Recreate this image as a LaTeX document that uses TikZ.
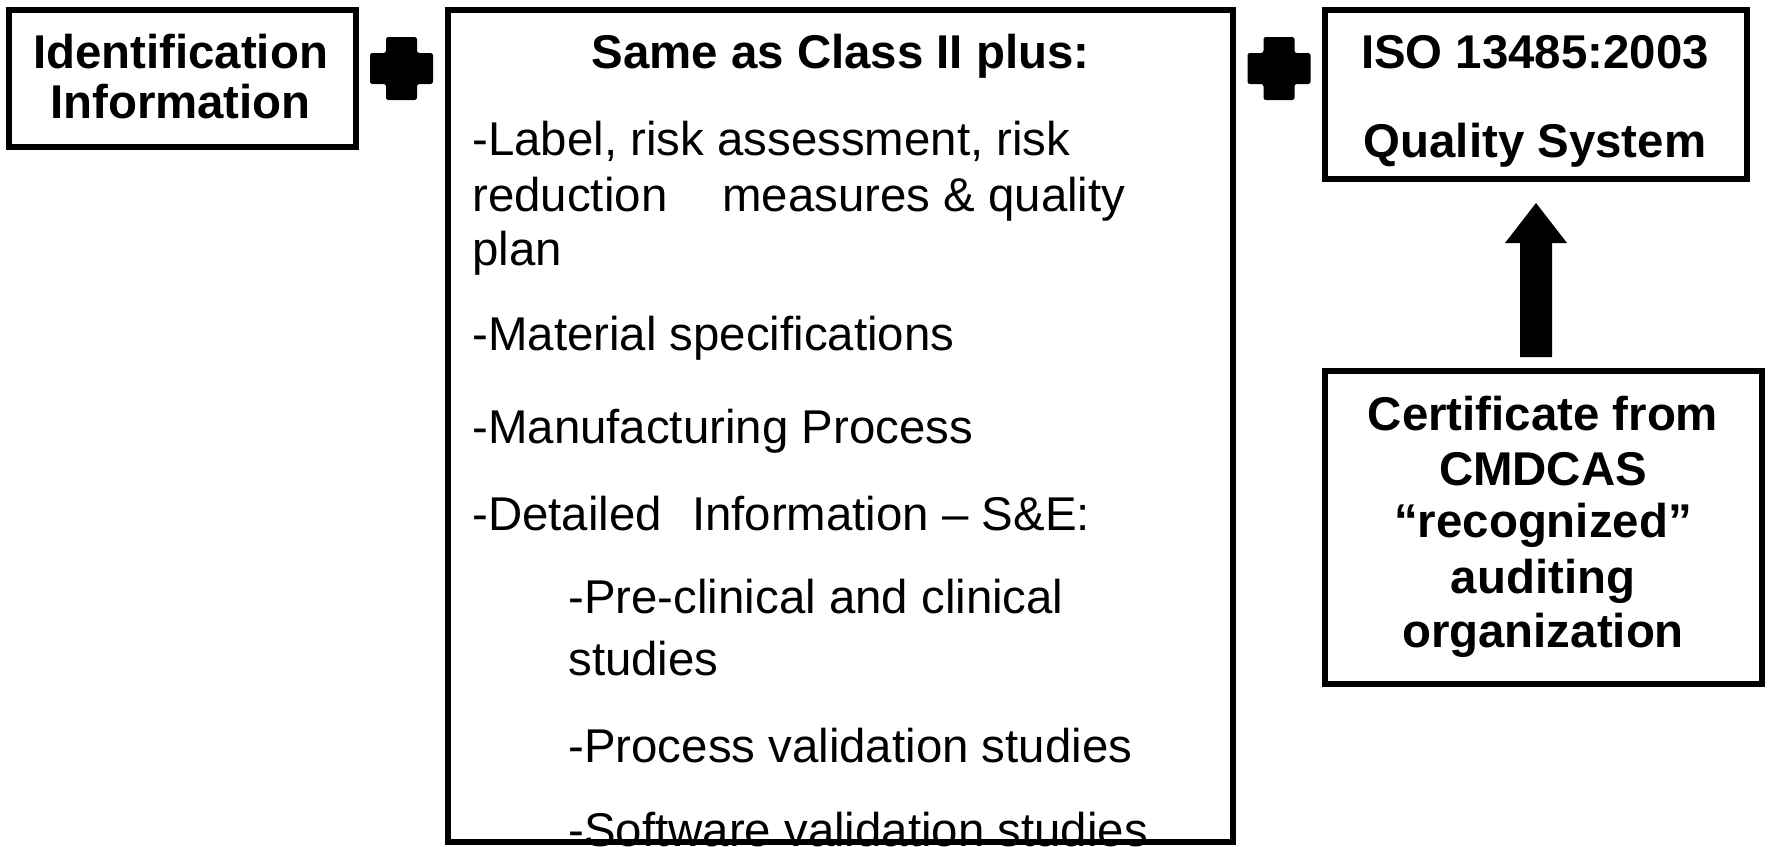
\documentclass[tikz,border=0pt]{standalone}
\usepackage{fontspec}
\setmainfont{Liberation Sans}
\usetikzlibrary{calc}
\begin{document}
\begin{tikzpicture}[x=0.5pt,y=-0.5pt,
  box/.style={draw=black, line width=3pt, inner sep=0pt},
  txt/.style={inner sep=0pt, anchor=base west, font=\fontsize{23.7pt}{28pt}\selectfont},
  bold/.style={inner sep=0pt, anchor=base, font=\fontsize{23.7pt}{28pt}\selectfont\bfseries},
  plussign/.pic={\fill[rounded corners=1.2pt] (-15.5,-31.5) -- (15.5,-31.5) -- (15.5,-15.5) -- (31.5,-15.5) -- (31.5,15.5) -- (15.5,15.5) -- (15.5,31.5) -- (-15.5,31.5) -- (-15.5,15.5) -- (-31.5,15.5) -- (-31.5,-15.5) -- (-15.5,-15.5) -- cycle;}
]
\useasboundingbox (0,0) rectangle (1771,846);

% left box
\node[box, minimum width=173.5pt, minimum height=68.5pt] (idbox) at (182.5,78.5) {};
\node[bold] (id1) at (180.5,68) {Identification};
\node[bold] (id2) at (180.5,118) {Information};

% plus signs
\pic (plusA) at (401.5,68.5) {plussign};
\pic (plusB) at (1279,68.5) {plussign};

% middle box contents
\node[bold] (mtitle) at (840.5,68) {Same as Class II plus:};
\node[txt] (m1) at (472,155) {-Label, risk assessment, risk};
\node[txt] (m2) at (472,211) {reduction\hspace{27.5pt}measures \& quality};
\node[txt] (m3) at (472,265) {plan};
\node[txt] (m4) at (472,350) {-Material specifications};
\node[txt] (m5) at (472,443) {-Manufacturing Process};
\node[txt] (m6) at (472,530) {-Detailed\hspace{15pt}Information \textendash{} S\&E:};
\node[txt] (m7) at (568,613) {-Pre-clinical and clinical};
\node[txt] (m8) at (568,675) {studies};
\node[txt] (m9) at (568,762) {-Process validation studies};
\node[txt] (m10) at (568,846) {-Software validation studies};
\node[box, minimum width=392.5pt, minimum height=416pt] (mid) at (840.5,426) {};

% quality system box
\node[box, minimum width=211pt, minimum height=84.5pt] (iso) at (1536,94.5) {};
\node[bold] (iso1) at (1535,68) {ISO 13485:2003};
\node[bold] (iso2) at (1535,157) {Quality System};

% certificate box
\node[box, minimum width=218.5pt, minimum height=156.5pt] (cert) at (1543.5,527.5) {};
\node[bold] (c1) at (1543,430) {Certificate from};
\node[bold] (c2) at (1543,485) {CMDCAS};
\node[bold] (c3) at (1543,537) {“recognized”};
\node[bold] (c4) at (1543,593) {auditing};
\node[bold] (c5) at (1543,647) {organization};

% block arrow from certificate up to quality system
\coordinate (tip) at ($(iso.south)+(0,21)$);
\coordinate (tail) at ($(iso.south |- cert.north)+(0,-11)$);
\fill (tip) -- ($(tip)+(31,40)$) -- ($(tip)+(16,40)$) -- ($(tail)+(16,0)$)
  -- ($(tail)+(-16,0)$) -- ($(tip)+(-16,40)$) -- ($(tip)+(-31,40)$) -- cycle;
\end{tikzpicture}
\end{document}
